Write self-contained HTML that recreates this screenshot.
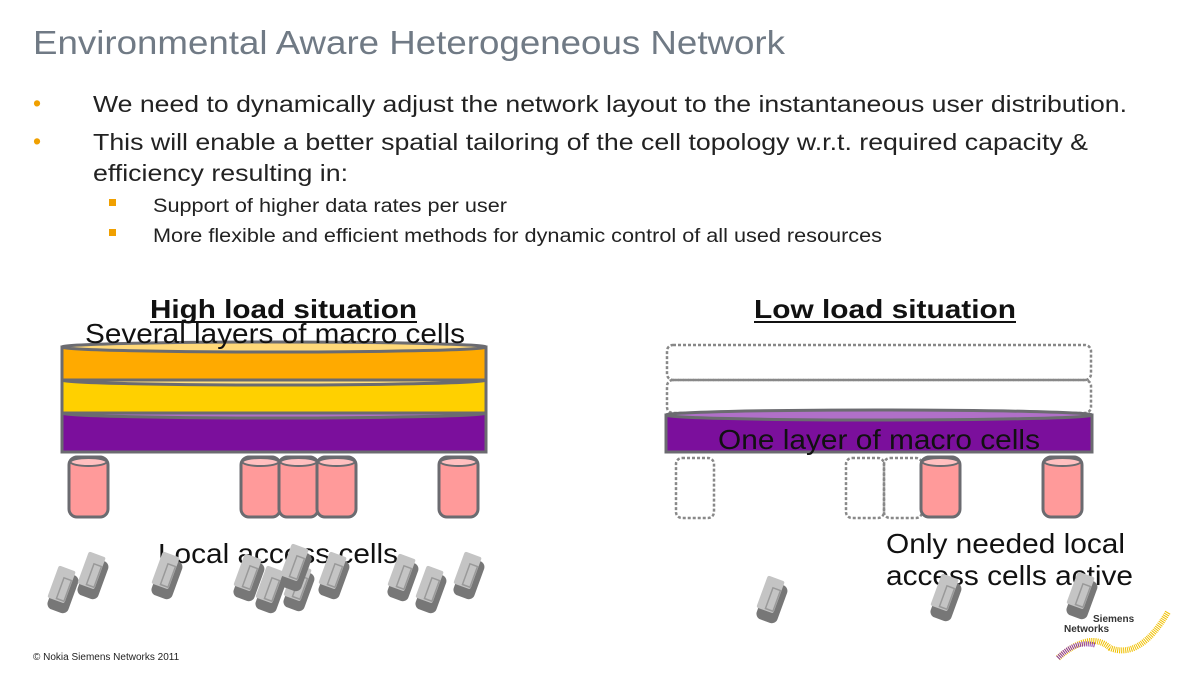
<!DOCTYPE html>
<html><head><meta charset="utf-8"><style>
body{margin:0;background:#fff;width:1200px;height:675px;overflow:hidden;font-family:"Liberation Sans",sans-serif}
svg{position:absolute;left:0;top:0}
</style></head><body>
<svg width="1200" height="675" xmlns="http://www.w3.org/2000/svg" font-family="Liberation Sans, sans-serif">
<defs>
<g id="phone">
  <rect x="-10" y="-20" width="22" height="40" rx="6" fill="#777"/>
  <rect x="-12" y="-24" width="18" height="34" rx="2" fill="#c4c4c4"/>
  <rect x="-3" y="-14" width="8" height="22" fill="none" stroke="#999" stroke-width="1.5"/>
</g>
<g id="cyl">
  <rect x="0" y="0" width="39" height="60" rx="8" fill="#ff9a9a" stroke="#6b6b70" stroke-width="3"/>
  <ellipse cx="19.5" cy="5" rx="18" ry="4" fill="#ffc0c0" stroke="#6b6b70" stroke-width="2"/>
</g>
</defs>
<text x="33" y="54" font-size="33" fill="#707a85" textLength="752" lengthAdjust="spacingAndGlyphs">Environmental Aware Heterogeneous Network</text>
<g font-size="23" fill="#222">
<text x="33" y="111" fill="#f0a000">•</text>
<text x="93" y="112" textLength="1034" lengthAdjust="spacingAndGlyphs">We need to dynamically adjust the network layout to the instantaneous user distribution.</text>
<text x="33" y="149" fill="#f0a000">•</text>
<text x="93" y="150" textLength="995" lengthAdjust="spacingAndGlyphs">This will enable a better spatial tailoring of the cell topology w.r.t. required capacity &amp;</text>
<text x="93" y="181" textLength="255" lengthAdjust="spacingAndGlyphs">efficiency resulting in:</text>
</g>
<g font-size="19" fill="#222">
<rect x="109" y="199" width="7" height="7" fill="#f0a000"/>
<text x="153" y="212" textLength="354" lengthAdjust="spacingAndGlyphs">Support of higher data rates per user</text>
<rect x="109" y="229" width="7" height="7" fill="#f0a000"/>
<text x="153" y="242" textLength="729" lengthAdjust="spacingAndGlyphs">More flexible and efficient methods for dynamic control of all used resources</text>
</g>

<g stroke="#6b6b70" stroke-width="3">
<rect x="62" y="413" width="424" height="39" fill="#7b0f9c"/>
<ellipse cx="274" cy="413" rx="212" ry="5" fill="#b070c8"/>
<rect x="62" y="380" width="424" height="33" fill="#ffd000"/>
<ellipse cx="274" cy="380" rx="212" ry="5" fill="#ffe080"/>
<rect x="62" y="347" width="424" height="33" fill="#ffaa00"/>
<ellipse cx="274" cy="347" rx="212" ry="5" fill="#ffd878"/>
</g>
<text x="150" y="318" font-size="26" font-weight="bold" fill="#111" textLength="267" lengthAdjust="spacingAndGlyphs">High load situation</text>
<line x1="150" y1="322" x2="417" y2="322" stroke="#111" stroke-width="2"/>
<text x="85" y="343" font-size="28" fill="#111" textLength="380" lengthAdjust="spacingAndGlyphs">Several layers of macro cells</text>
<use href="#cyl" x="69" y="457"/>
<use href="#cyl" x="241" y="457"/>
<use href="#cyl" x="279" y="457"/>
<use href="#cyl" x="317" y="457"/>
<use href="#cyl" x="439" y="457"/>
<text x="158" y="563" font-size="28" fill="#111" textLength="240" lengthAdjust="spacingAndGlyphs">Local access cells</text>
<g>
<use href="#phone" transform="translate(62,592) rotate(20)"/>
<use href="#phone" transform="translate(92,578) rotate(20)"/>
<use href="#phone" transform="translate(166,578) rotate(20)"/>
<use href="#phone" transform="translate(248,580) rotate(20)"/>
<use href="#phone" transform="translate(270,592) rotate(20)"/>
<use href="#phone" transform="translate(298,590) rotate(20)"/>
<use href="#phone" transform="translate(295,570) rotate(20)"/>
<use href="#phone" transform="translate(333,578) rotate(20)"/>
<use href="#phone" transform="translate(402,580) rotate(20)"/>
<use href="#phone" transform="translate(430,592) rotate(20)"/>
<use href="#phone" transform="translate(468,578) rotate(20)"/>
</g>

<g stroke="#888" stroke-width="2.5" stroke-dasharray="3,2" fill="none">
<rect x="667" y="345" width="424" height="35" rx="6"/>
<rect x="667" y="380" width="424" height="33" rx="6"/>
<rect x="676" y="458" width="38" height="60" rx="6"/>
<rect x="846" y="458" width="38" height="60" rx="6"/>
<rect x="884" y="458" width="38" height="60" rx="6"/>
</g>
<g stroke="#6b6b70" stroke-width="3">
<rect x="666" y="415" width="426" height="37" fill="#7b0f9c"/>
<ellipse cx="879" cy="415" rx="213" ry="5" fill="#b070c8"/>
</g>
<text x="754" y="318" font-size="26" font-weight="bold" fill="#111" textLength="262" lengthAdjust="spacingAndGlyphs">Low load situation</text>
<line x1="754" y1="322" x2="1016" y2="322" stroke="#111" stroke-width="2"/>
<text x="718" y="449" font-size="28" fill="#111" textLength="322" lengthAdjust="spacingAndGlyphs">One layer of macro cells</text>
<use href="#cyl" x="921" y="457"/>
<use href="#cyl" x="1043" y="457"/>
<text x="886" y="553" font-size="28" fill="#111" textLength="239" lengthAdjust="spacingAndGlyphs">Only needed local</text>
<text x="886" y="585" font-size="28" fill="#111" textLength="247" lengthAdjust="spacingAndGlyphs">access cells active</text>
<use href="#phone" transform="translate(771,602) rotate(20)"/>
<use href="#phone" transform="translate(945,600) rotate(20)"/>
<use href="#phone" transform="translate(1081,598) rotate(20)"/>

<text x="1093" y="622" font-size="10" font-weight="bold" fill="#333">Siemens</text>
<text x="1064" y="632" font-size="10" font-weight="bold" fill="#333">Networks</text>
<path d="M1058 658 Q1090 630 1110 648 Q1140 660 1168 612" stroke="#f0c000" stroke-width="6" fill="none" stroke-dasharray="1,1"/>
<path d="M1058 658 Q1075 640 1095 645" stroke="#8a3aa0" stroke-width="5" fill="none" stroke-dasharray="1,1"/>
<text x="33" y="660" font-size="10" fill="#222">© Nokia Siemens Networks 2011</text>
</svg>
</body></html>
